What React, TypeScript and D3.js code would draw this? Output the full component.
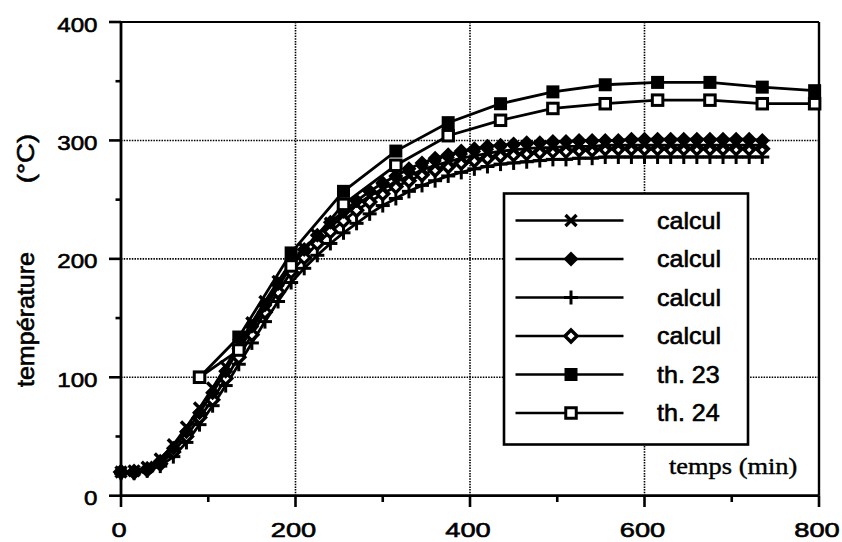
import React from "react";
import * as d3 from "d3";

const calcTimes = [0,15,30,45,60,75,90,105,120,135,150,165,180,195,210,225,240,255,270,285,300,315,330,345,360,375,390,405,420,435,450,465,480,495,510,525,540,555,570,585,600,615,630,645,660,675,690,705,720,735];
const calcCross = [20,21,24,31,43,58,74,91,109,128,146,164,181,197,209,220,230,238,246,253,259,265,270,275,279,282,285,287,289,291,292,293,294,294,295,295,295,296,296,296,296,296,296,296,296,296,296,296,296,296];
const calcDiamond = [20,20,23,29,40,54,70,87,105,124,143,161,179,195,208,220,231,240,249,257,264,270,276,281,285,288,291,293,295,296,297,298,298,299,299,300,300,300,300,301,301,301,301,301,301,301,301,301,301,300];
const calcPlus = [19,19,21,25,33,45,60,76,93,111,129,147,164,180,192,203,213,222,230,238,245,251,257,262,266,270,273,276,278,280,281,282,283,284,284,285,285,286,286,286,286,286,286,286,286,286,286,286,286,286];
const calcOpen = [20,20,22,27,37,50,66,81,99,117,136,155,172,189,201,213,223,232,241,248,255,261,266,271,275,278,281,283,285,287,288,289,290,291,291,292,292,293,293,293,293,293,293,293,293,293,293,293,293,293];

const thTimes = [90,135,195,255,315,375,435,495,555,615,675,735,795];
const th23 = [100,134,205,257,291,315,331,341,347,349,349,345,342];
const th24 = [100,123,194,246,279,304,317,327,331,334,334,331,331];

const xTicks = [0,200,400,600,800];
const xMinor = [100,300,500,700];
const yTicks = [0,100,200,300,400];
const yMinor = [50,150,250,350];
const xGrid = [200,400,600];
const yGrid = [100,200,300];

const legendLabels = ["calcul","calcul","calcul","calcul","th. 23","th. 24"];
const legendMarkers = ["cross","diamond","plus","odiamond","square","osquare"];

const W = 842, H = 542;
const x = d3.scaleLinear().domain([0, 800]).range([121, 819]);
const y = d3.scaleLinear().domain([0, 400]).range([495.7, 22]);

const SANS = "'Liberation Sans', Arial, Helvetica, sans-serif";
const SERIF = "'Liberation Serif', 'Times New Roman', serif";

function Marker({ kind, cx, cy }: { kind: string; cx: number; cy: number }) {
  switch (kind) {
    case "cross": {
      const r = 5.5;
      return (
        <g stroke="#000" strokeWidth={3.4}>
          <line x1={cx - r} y1={cy - r} x2={cx + r} y2={cy + r} />
          <line x1={cx - r} y1={cy + r} x2={cx + r} y2={cy - r} />
        </g>
      );
    }
    case "diamond": {
      const r = 7.5;
      return <polygon points={`${cx},${cy - r} ${cx + r},${cy} ${cx},${cy + r} ${cx - r},${cy}`} fill="#000" />;
    }
    case "plus": {
      const r = 7;
      return (
        <g stroke="#000" strokeWidth={3}>
          <line x1={cx - r} y1={cy} x2={cx + r} y2={cy} />
          <line x1={cx} y1={cy - r} x2={cx} y2={cy + r} />
        </g>
      );
    }
    case "odiamond": {
      const r = 6;
      return <polygon points={`${cx},${cy - r} ${cx + r},${cy} ${cx},${cy + r} ${cx - r},${cy}`} fill="#fff" stroke="#000" strokeWidth={3.4} />;
    }
    case "square": {
      const s = 13;
      return <rect x={cx - s / 2} y={cy - s / 2} width={s} height={s} fill="#000" />;
    }
    case "osquare": {
      const s = 10.5;
      return <rect x={cx - s / 2} y={cy - s / 2} width={s} height={s} fill="#fff" stroke="#000" strokeWidth={3} />;
    }
  }
  return null;
}

function Series({ times, values, kind }: { times: number[]; values: number[]; kind: string }) {
  const line = d3.line<number>().x((_, i) => x(times[i])).y((v) => y(v));
  return (
    <g>
      <path d={line(values) || ""} fill="none" stroke="#000" strokeWidth={2.8} />
      {values.map((v, i) => (
        <Marker key={i} kind={kind} cx={x(times[i])} cy={y(v)} />
      ))}
    </g>
  );
}

const inkText = { stroke: "#000", strokeWidth: 0.6 } as const;

export default function App() {
  const legX = 504, legY = 193.5, legW = 244, legH = 251;
  const rowY = (i: number) => 220.5 + i * 38.5;
  return (
    <svg width={W} height={H} style={{ position: "absolute", left: 0, top: 0, background: "#fff" }}>
      <rect x={0} y={0} width={W} height={H} fill="#fff" />
      {/* grid */}
      {xGrid.map((g) => (
        <line key={"gx" + g} x1={x(g)} x2={x(g)} y1={y(400)} y2={y(0)} stroke="#000" strokeWidth={1.6} strokeDasharray="1.5,1.2" />
      ))}
      {yGrid.map((g) => (
        <line key={"gy" + g} x1={x(0)} x2={x(800)} y1={y(g)} y2={y(g)} stroke="#000" strokeWidth={1.6} strokeDasharray="1.5,1.2" />
      ))}
      {/* frame */}
      <line x1={x(0)} x2={x(800)} y1={y(400)} y2={y(400)} stroke="#000" strokeWidth={2.2} />
      <line x1={x(800)} x2={x(800)} y1={y(400)} y2={y(0)} stroke="#000" strokeWidth={2.4} />
      <line x1={x(0)} x2={x(0)} y1={y(400)} y2={y(0)} stroke="#000" strokeWidth={2.8} />
      <line x1={x(0)} x2={x(800)} y1={y(0)} y2={y(0)} stroke="#000" strokeWidth={2.8} />
      {/* ticks */}
      {yTicks.map((t) => (
        <line key={"yt" + t} x1={109} x2={x(0)} y1={y(t)} y2={y(t)} stroke="#000" strokeWidth={2.6} />
      ))}
      {yMinor.map((t) => (
        <line key={"ym" + t} x1={115.5} x2={x(0)} y1={y(t)} y2={y(t)} stroke="#000" strokeWidth={2.6} />
      ))}
      {xTicks.map((t) => (
        <line key={"xt" + t} x1={x(t)} x2={x(t)} y1={y(0)} y2={507} stroke="#000" strokeWidth={2.6} />
      ))}
      {xMinor.map((t) => (
        <line key={"xm" + t} x1={x(t)} x2={x(t)} y1={y(0)} y2={502} stroke="#000" strokeWidth={2.6} />
      ))}
      {/* tick labels */}
      {yTicks.map((t) => (
        <text key={"yl" + t} transform={`translate(97.5,${y(t) + 9.5}) scale(1.15,1)`} textAnchor="end" fontFamily={SANS} fontSize={21} {...inkText}>
          {t}
        </text>
      ))}
      {xTicks.map((t) => (
        <text key={"xl" + t} transform={`translate(${x(t) - 2},536.5) scale(1.3,1)`} textAnchor="middle" fontFamily={SANS} fontSize={21} {...inkText}>
          {t}
        </text>
      ))}
      {/* axis title */}
      <text transform="translate(34,319.5) rotate(-90) scale(1.09,1)" textAnchor="middle" fontFamily={SANS} fontSize={23} {...inkText}>
        température
      </text>
      <text transform="translate(34,158.5) rotate(-90) scale(1.2,1)" textAnchor="middle" fontFamily={SANS} fontSize={23} {...inkText}>
        (°C)
      </text>
      {/* data */}
      <Series times={calcTimes} values={calcPlus} kind="plus" />
      <Series times={calcTimes} values={calcOpen} kind="odiamond" />
      <Series times={calcTimes} values={calcCross} kind="cross" />
      <Series times={calcTimes} values={calcDiamond} kind="diamond" />
      <Series times={thTimes} values={th23} kind="square" />
      <Series times={thTimes} values={th24} kind="osquare" />
      {/* legend */}
      <rect x={legX} y={legY} width={legW} height={legH} fill="#fff" stroke="#000" strokeWidth={2.6} />
      {legendLabels.map((lab, i) => (
        <g key={"lg" + i}>
          <line x1={515.5} x2={623.5} y1={rowY(i)} y2={rowY(i)} stroke="#000" strokeWidth={2.6} />
          <Marker kind={legendMarkers[i]} cx={571} cy={rowY(i)} />
          <text transform={`translate(657,${rowY(i) + 8}) scale(1.09,1)`} fontFamily={SANS} fontSize={23} {...inkText}>
            {lab}
          </text>
        </g>
      ))}
      <text transform="translate(669,474) scale(1.1,1)" fontFamily={SERIF} fontSize={24} stroke="#000" strokeWidth={0.4}>
        temps (min)
      </text>
    </svg>
  );
}
